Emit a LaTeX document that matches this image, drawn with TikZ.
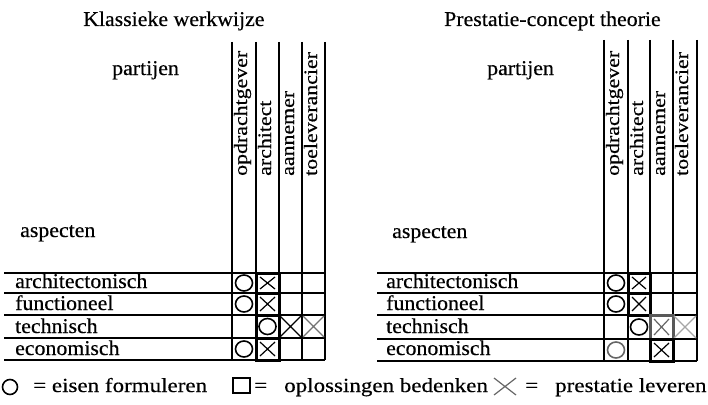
\documentclass[tikz,border=0pt]{standalone}
\usepackage{fontspec}
\setmainfont{Liberation Serif}[FakeBold=0.4]
\newcommand{\wtext}[1]{\scalebox{1.04}[1]{#1}}
\newcommand{\vtext}[1]{\scalebox{1.15}[1]{#1}}
\newcommand{\cellcirc}[5][]{\draw[mk,#1] ({(#2+#4)/2},{(#3+#5)/2}) ellipse (8.5 and 8);}
\newcommand{\cellbox}[5][]{\draw[bx,#1] (#2,#3) rectangle (#4,#5);}
\newcommand{\cellx}[6][]{\draw[xl,#1] (#2+#6,#3+#6) -- (#4-#6,#5-#6) (#2+#6,#5-#6) -- (#4-#6,#3+#6);}
\tikzset{
  lbl/.style={font=\fontsize{21}{21}\selectfont, inner sep=0pt, anchor=base west},
  vlbl/.style={font=\fontsize{19}{19}\selectfont, inner sep=0pt, anchor=base west, rotate=90},
  leg/.style={font=\fontsize{20}{20}\selectfont, inner sep=0pt, anchor=base west},
  gridline/.style={line width=1.3pt, black},
  rowline/.style={line width=1.5pt, black},
  mk/.style={line width=1.6pt},
  bx/.style={line width=3pt},
  xl/.style={line width=1.2pt},
}
\begin{document}
\begin{tikzpicture}[x=1pt,y=-1pt]
\useasboundingbox (0,0) rectangle (708,404);
% ---------- titles ----------
\node[lbl] (t1) at (83,26) {\wtext{Klassieke werkwijze}};
\node[lbl] (t2) at (444,26) {\wtext{Prestatie-concept theorie}};
\node[lbl] (p1) at (112,75) {\wtext{partijen}};
\node[lbl] (p2) at (487,75) {\wtext{partijen}};
\node[lbl] (a1) at (20,237) {\wtext{aspecten}};
\node[lbl] (a2) at (392,238) {\wtext{aspecten}};
% ---------- left table ----------
\foreach \y in {273,293,315,338,360} \draw[rowline] (4,\y) -- (325,\y);
\foreach \x in {232,256,279,302,325} \draw[gridline] (\x,42) -- (\x,360);
\node[vlbl] (l1) at (247,176) {\vtext{opdrachtgever}};
\node[vlbl] (l2) at (271,176) {\vtext{architect}};
\node[vlbl] (l3) at (294,176) {\vtext{aannemer}};
\node[vlbl] (l4) at (317,176) {\vtext{toeleverancier}};
\node[lbl] (r1) at (15,288) {\wtext{architectonisch}};
\node[lbl] (r2) at (15,310) {\wtext{functioneel}};
\node[lbl] (r3) at (15,333) {\wtext{technisch}};
\node[lbl] (r4) at (15,355) {\wtext{economisch}};
\cellcirc{232}{273}{256}{293}
\cellcirc{232}{293}{256}{315}
\cellcirc{232}{338}{256}{360}
\draw[bx] (256,273) rectangle (279,360);
\foreach \y in {293,315,338} \draw[bx] (256,\y) -- (279,\y);
\cellx{256}{273}{279}{293}{4}
\cellx{256}{293}{279}{315}{4}
\cellx{256}{338}{279}{360}{4}
\cellcirc{256}{315}{279}{338}
\cellx{279}{315}{302}{338}{1}
\cellx[black!55]{302}{315}{325}{338}{1}
% ---------- right table ----------
\foreach \y in {273,293,315,339,361} \draw[rowline] (377,\y) -- (697,\y);
\foreach \x in {604,628,650,673,697} \draw[gridline] (\x,40) -- (\x,361);
\node[vlbl] (m1) at (619,176) {\vtext{opdrachtgever}};
\node[vlbl] (m2) at (643,176) {\vtext{architect}};
\node[vlbl] (m3) at (665,176) {\vtext{aannemer}};
\node[vlbl] (m4) at (688,176) {\vtext{toeleverancier}};
\node[lbl] (s1) at (386,288) {\wtext{architectonisch}};
\node[lbl] (s2) at (386,310) {\wtext{functioneel}};
\node[lbl] (s3) at (386,333) {\wtext{technisch}};
\node[lbl] (s4) at (386,355) {\wtext{economisch}};
\cellcirc{604}{273}{628}{293}
\cellcirc{604}{293}{628}{315}
\cellcirc[black!60]{604}{339}{628}{361}
\cellbox{628}{273}{650}{315}
\draw[bx] (628,293) -- (650,293);
\cellx{628}{273}{650}{293}{4}
\cellx{628}{293}{650}{315}{4}
\cellcirc{628}{315}{650}{339}
\cellbox[black!65]{650}{315}{673}{339}
\cellx[black!60]{650}{315}{673}{339}{4}
\cellx[black!35]{673}{315}{697}{339}{1}
\cellbox{650}{339}{673}{361}
\cellx{650}{339}{673}{361}{4}
% ---------- legend ----------
\draw[mk] (10,387) circle (7.5);
\node[leg] (e1) at (33,392) {\vtext{= eisen formuleren}};
\draw[line width=1.4pt] (233,378) rectangle (250,393);
\node[leg] (e2) at (254,392) {\vtext{=}};
\node[leg] (e3) at (284,392) {\vtext{oplossingen bedenken}};
\draw[line width=1.2pt, black!60] (494,378) -- (516,395) (494,395) -- (516,378);
\node[leg] (e4) at (525,392) {\vtext{=}};
\node[leg] (e5) at (555,392) {\vtext{prestatie leveren}};
\end{tikzpicture}
\end{document}
